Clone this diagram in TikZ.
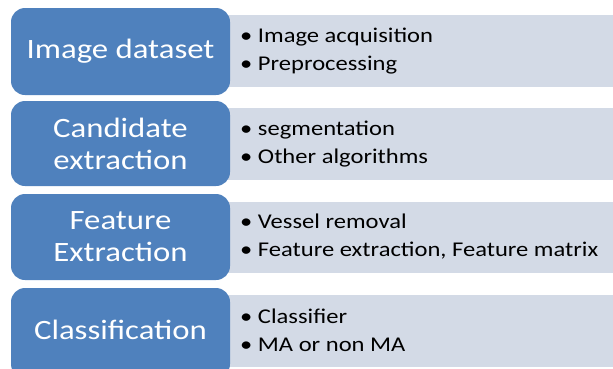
\documentclass[tikz,border=0pt]{standalone}
\usepackage{fontspec}
\setmainfont{Carlito}[FakeStretch=1.17]
\definecolor{stageblue}{HTML}{4F81BD}
\definecolor{notegray}{HTML}{D3DAE6}
\begin{document}
\begin{tikzpicture}[x=1pt,y=-1pt,
  stagebox/.style={fill=stageblue, draw=none, rounded corners=14pt},
  notebox/.style={fill=notegray, draw=none},
  stagetext/.style={text=white, align=center, font=\fontsize{28}{32}\selectfont},
  notetext/.style={text=black, align=left, anchor=west, inner sep=0pt, font=\fontsize{21}{28}\selectfont}]
  \useasboundingbox (0,0) rectangle (613,368);
  \begin{scope}
    \clip (0,0) rectangle (613,368);
    % light detail panels behind each stage
    \fill[notebox] (225,15) rectangle (620,87);
    \fill[notebox] (225,108) rectangle (620,180);
    \fill[notebox] (225,202) rectangle (620,273);
    \fill[notebox] (225,295) rectangle (620,367);
    % stage boxes
    \fill[stagebox] (11,8) rectangle (230,95);
    \fill[stagebox] (11,101) rectangle (230,186);
    \fill[stagebox] (11,194) rectangle (230,280);
    \fill[stagebox] (11,288) rectangle (230,378);
  \end{scope}
  \node[stagetext] (s1) at (120.5,51) {Image dataset};
  \node[stagetext] (s2) at (120.5,144) {Candidate\\extraction};
  \node[stagetext] (s3) at (120.5,237) {Feature\\Extraction};
  \node[stagetext] (s4) at (120.5,330) {Classification};
  \node[notetext] (n1) at (240,51) {\textbullet\ Image acquisition\\\textbullet\ Preprocessing};
  \node[notetext] (n2) at (240,144) {\textbullet\ segmentation\\\textbullet\ Other algorithms};
  \node[notetext] (n3) at (240,237) {\textbullet\ Vessel removal\\\textbullet\ Feature extraction, Feature matrix};
  \node[notetext] (n4) at (240,330) {\textbullet\ Classifier\\\textbullet\ MA or non MA};
\end{tikzpicture}
\end{document}
